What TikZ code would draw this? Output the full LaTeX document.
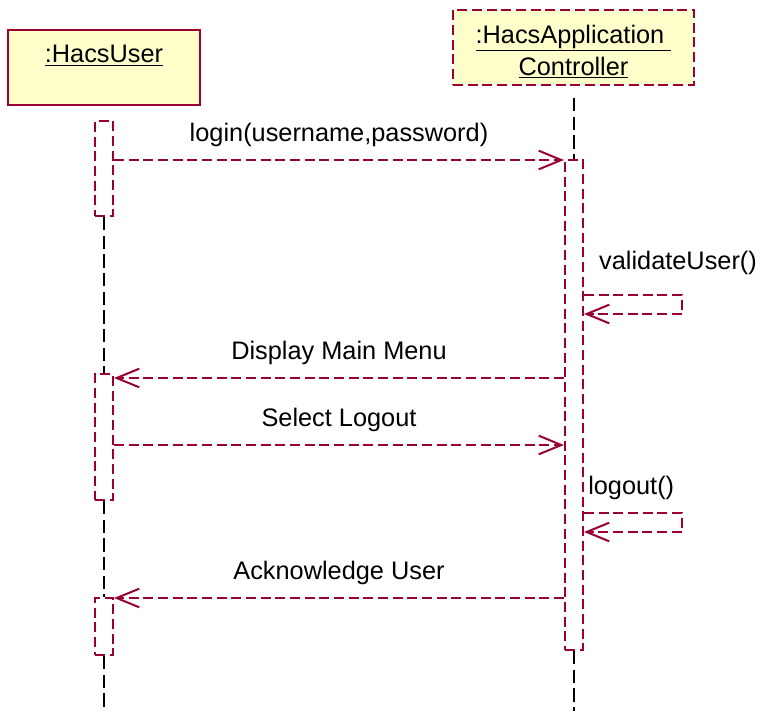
\documentclass[tikz,border=0pt]{standalone}
\usepackage{fontspec}
\setmainfont{Liberation Sans}
\usetikzlibrary{arrows.meta}
\definecolor{umlred}{RGB}{153,0,51}
\definecolor{umlfill}{RGB}{255,255,204}
\tikzset{
  objbox/.style={draw=umlred, fill=umlfill, line width=1.5pt, inner sep=0pt},
  actbar/.style={draw=umlred, fill=white, line width=1.5pt, dash pattern=on 7.5pt off 3.5pt, minimum width=13.5pt, inner sep=0pt},
  lifeline/.style={black, line width=1.5pt, dash pattern=on 10pt off 4pt},
  msg/.style={umlred, line width=1.5pt, dash pattern=on 7.5pt off 3.5pt, -{Straight Barb[length=17pt,width=14pt]}},
  lbl/.style={black, inner sep=0pt, align=center}
}
\begin{document}
\begin{tikzpicture}[font=\fontsize{19}{24}\selectfont, x=0.75pt, y=-0.75pt]
\useasboundingbox (0,0) rectangle (771,711);

% objects
\node[objbox, minimum width=144pt, minimum height=56.25pt,
  label={[lbl, yshift=9pt]center:\underline{:HacsUser}}] (user) at (104,67.5) {};
\node[objbox, dash pattern=on 7.5pt off 3.5pt, minimum width=180.75pt, minimum height=56.25pt,
  label={[lbl, yshift=-3.2pt]center:\underline{:HacsApplication\ }\\\underline{Controller}}] (ctrl) at (573.5,47.5) {};

% activations
\node[actbar, minimum height=71.25pt] (ua1) at (104,168.5) {};
\node[actbar, minimum height=94.5pt] (ua2) at (104,437) {};
\node[actbar, minimum height=42.75pt] (ua3) at (104,626.5) {};
\node[actbar, minimum height=367.5pt] (ca) at (574,405) {};

% lifelines
\coordinate (uend) at (104,711);
\coordinate (ctop) at (574,98);
\coordinate (cend) at (574,711);
\draw[lifeline] (ua1.south) -- (ua2.north);
\draw[lifeline] (ua2.south) -- (ua3.north);
\draw[lifeline] (ua3.south) -- (uend);
\draw[lifeline] (ctop) -- (ca.north);
\draw[lifeline] (ca.south) -- (cend);

% messages
\coordinate (y1) at (0,160);
\coordinate (y2) at (0,378);
\coordinate (y3) at (0,445);
\coordinate (y4) at (0,598);
\draw[msg] (ua1.east |- y1) -- (ca.west |- y1) node[lbl, midway, above=9pt] (l1) {login(username,password)};
\draw[msg] (ca.west |- y2) -- (ua2.east |- y2) node[lbl, midway, above=9pt] (l2) {Display Main Menu};
\draw[msg] (ua2.east |- y3) -- (ca.west |- y3) node[lbl, midway, above=9pt] (l3) {Select Logout};
\draw[msg] (ca.west |- y4) -- (ua3.east |- y4) node[lbl, midway, above=9pt] (l4) {Acknowledge User};

% self messages
\coordinate (v1) at (0,295);
\coordinate (v2) at (0,314);
\coordinate (w1) at (0,513);
\coordinate (w2) at (0,532);
\draw[msg] (ca.east |- v1) -- ++(98,0) -- ++(0,19) -- (ca.east |- v2);
\draw[msg] (ca.east |- w1) -- ++(98,0) -- ++(0,19) -- (ca.east |- w2);
\node[lbl] (l5) at (678,263) {validateUser()};
\node[lbl, anchor=west] (l6) at (588,488) {logout()};
\end{tikzpicture}
\end{document}
